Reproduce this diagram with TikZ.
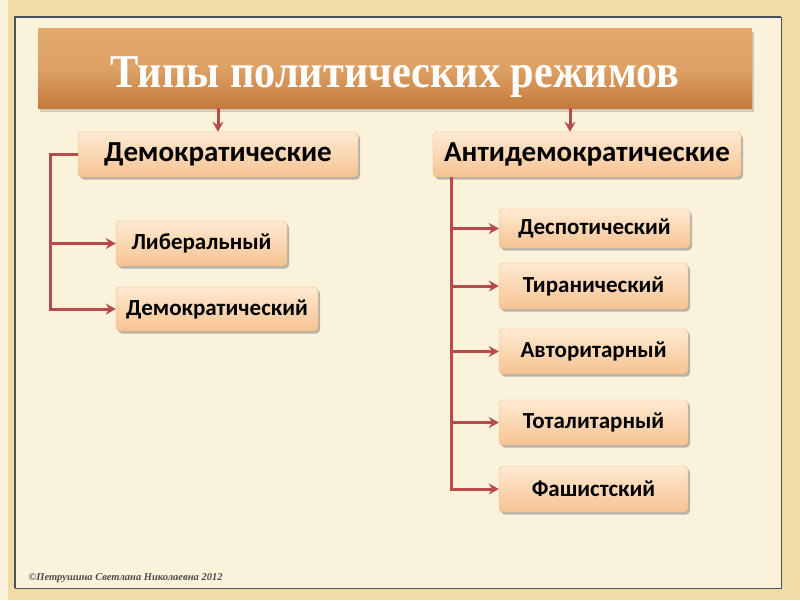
\documentclass[tikz,border=0pt]{standalone}
\usepackage{fontspec}
\setmainfont{Liberation Serif}
\newfontfamily\boxfont{Carlito}
\usepackage{tikz}
\usetikzlibrary{positioning,calc,shadows,arrows.meta}

\definecolor{frameGold}{HTML}{F0DCA4}
\definecolor{panelCream}{HTML}{FBF2DC}
\definecolor{panelEdge}{HTML}{4A5262}
\definecolor{titleTop}{HTML}{E2A86C}
\definecolor{titleBot}{HTML}{C47A3C}
\definecolor{boxTop}{HTML}{FEEAD2}
\definecolor{boxBot}{HTML}{F6C392}
\definecolor{linkRed}{HTML}{B84A4C}

\tikzset{
  titlebox/.style={rectangle, top color=titleTop, bottom color=titleBot,
    middle color=titleTop!85!titleBot, minimum width=714pt, minimum height=80pt,
    text height=38pt, text depth=0pt,
    drop shadow={shadow xshift=2pt, shadow yshift=-4pt, opacity=0.35},
    text=white, font=\fontsize{47}{50}\selectfont\bfseries},
  headbox/.style={rectangle, rounded corners=4pt, top color=boxTop, bottom color=boxBot,
    draw=boxBot!80!brown, minimum height=45pt,
    drop shadow={shadow xshift=2pt, shadow yshift=-2.5pt, opacity=0.55},
    font=\boxfont\fontsize{29}{31}\selectfont\bfseries},
  subbox/.style={headbox, font=\boxfont\fontsize{23}{25}\selectfont\bfseries},
  link/.style={draw=linkRed, line width=3pt},
  arr/.style={link, -{Stealth[length=10pt,width=11pt]}},
}

\begin{document}
\begin{tikzpicture}[x=1pt, y=-1pt]
    \useasboundingbox (0,0) rectangle (800,600);
    % Background frame and panel
    \fill[frameGold] (0,0) rectangle (800,600);
    \fill[frameGold!40!white] (0,0) rectangle (8,600);
    \fill[panelCream] (15,17) rectangle (781,588);
    \draw[panelEdge, line width=0.8pt] (15,17) rectangle (781,588);
    \draw[panelEdge, line width=1.8pt] (15,588) -- (15,17) -- (781,17);

    % Title
    \node[titlebox] (title) at (395,68) {\scalebox{0.9}[1]{Типы политических режимов}};

    % Two main groups
    \node[headbox, minimum width=280pt] (dem) at (218,154.5) {Демократические};
    \node[headbox, minimum width=308pt] (antidem) at (587,154.5) {Антидемократические};
    \draw[arr] (dem.north |- title.south) -- (dem.north);
    \draw[arr] ([xshift=-17pt]antidem.north |- title.south) -- ([xshift=-17pt]antidem.north);

    % Democratic regimes
    \node[subbox, minimum width=171pt] (liberal) at (201.5,243.5) {Либеральный};
    \node[subbox, minimum width=202pt, minimum height=44pt] (demreg) at (217,309) {Демократический};
    \draw[arr] (dem.west) -- ++(-27,0) coordinate (lbus) |- (demreg.west);
    \draw[arr] (lbus |- liberal.west) -- (liberal.west);

    % Antidemocratic regimes
    \node[subbox, minimum width=191pt, minimum height=39pt] (despot) at (594.5,228.5) {Деспотический};
    \node[subbox, minimum width=189pt, minimum height=46pt] (tyran) at (593.5,286) {Тиранический};
    \node[subbox, minimum width=189pt] (author) at (593.5,351.5) {Авторитарный};
    \node[subbox, minimum width=189pt] (total) at (593.5,422.5) {Тоталитарный};
    \node[subbox, minimum width=189pt, minimum height=46pt] (fascist) at (593.5,489) {Фашистский};
    \coordinate (rbus) at ([xshift=19pt]antidem.south west);
    \draw[arr] (rbus) |- (fascist.west);
    \foreach \reg in {despot, tyran, author, total}
        \draw[arr] (rbus |- \reg.west) -- (\reg.west);

    % Footer
    \node[anchor=west, font=\fontsize{10.5}{11}\selectfont\itshape\bfseries, text=black!70] (footer) at (25,578) {©Петрушина Светлана Николаевна 2012};
\end{tikzpicture}
\end{document}
